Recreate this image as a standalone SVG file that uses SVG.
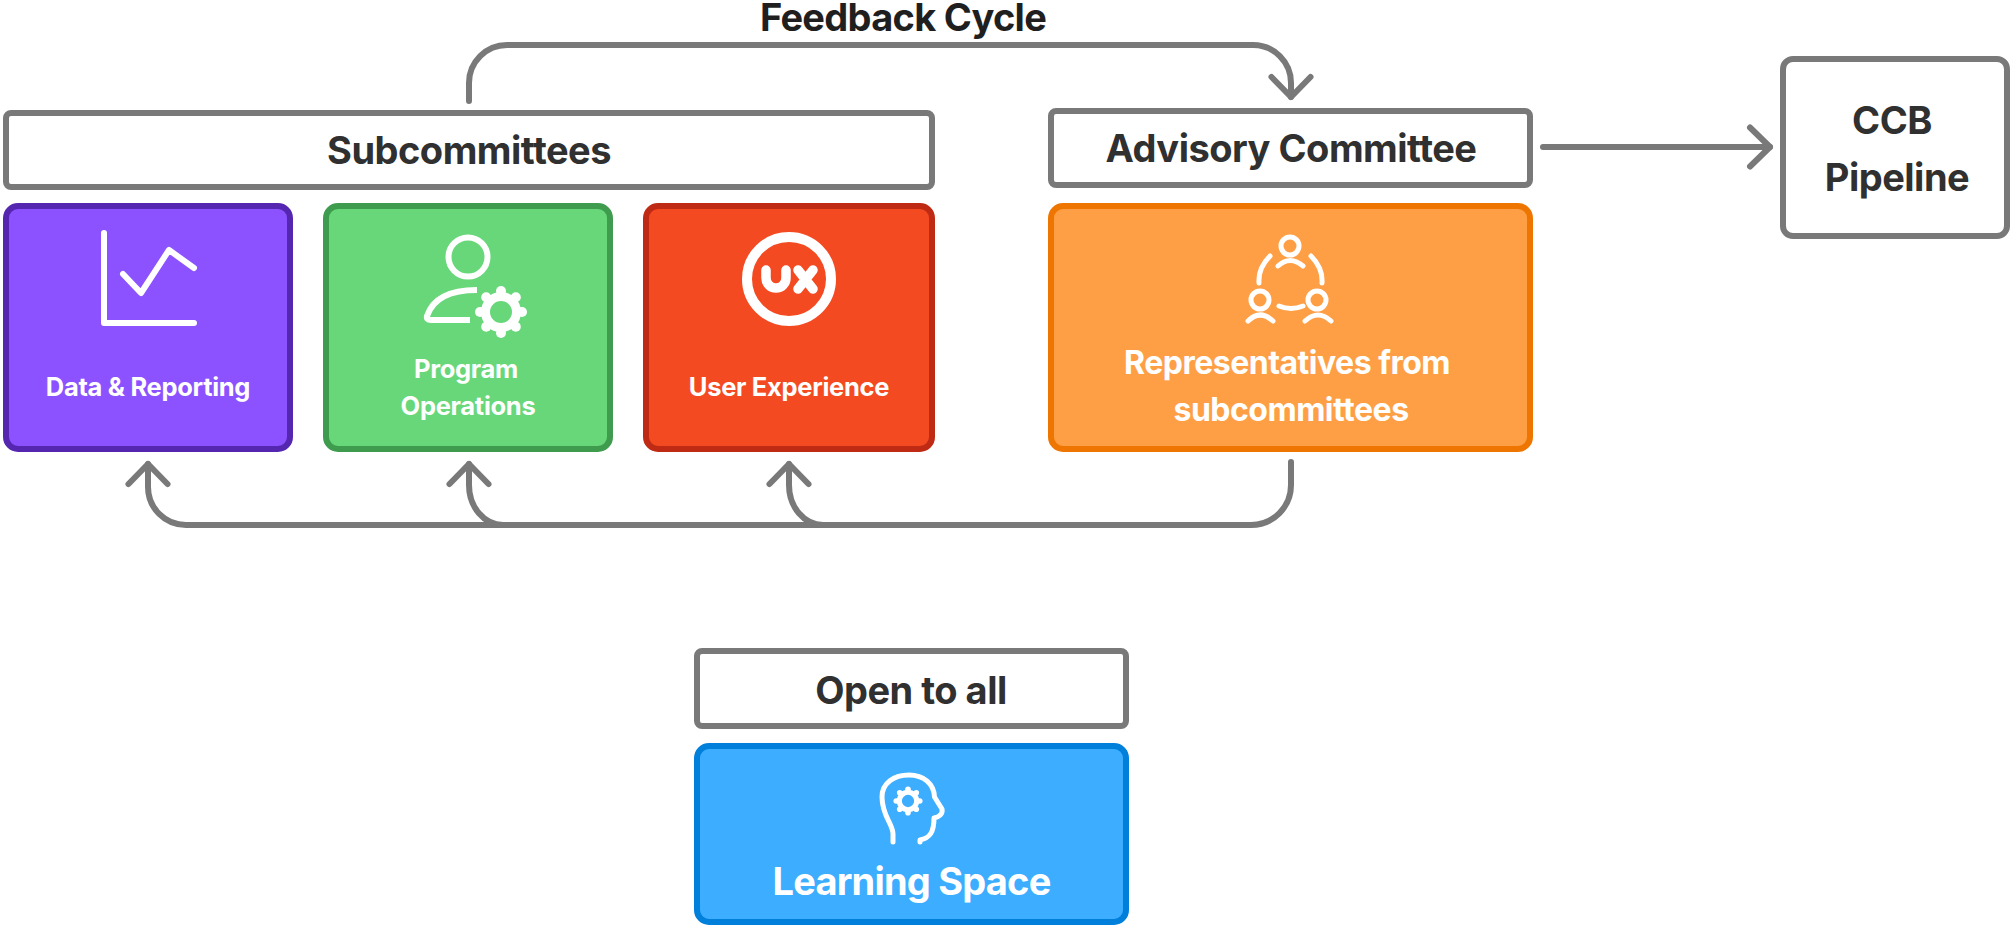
<svg xmlns="http://www.w3.org/2000/svg" width="2010" height="925" viewBox="0 0 2010 925">
<style>
text{font-family:Inter,"Liberation Sans",sans-serif;font-weight:700;text-anchor:middle}
.hd{fill:#303030;font-size:38px;letter-spacing:-.5px}
.wt{fill:#fff}
.sm{font-size:25.5px;letter-spacing:-.3px}
.md{font-size:32px;letter-spacing:-.5px}
.box{stroke-width:6}
.plain{fill:#fff;stroke:#797979}
.ic{fill:none;stroke:#fff;stroke-width:6;stroke-linecap:round;stroke-linejoin:round}
.cn{fill:none;stroke:#797979;stroke-width:6;stroke-linecap:round;stroke-linejoin:round}
</style>
<defs>
<marker id="arrow" markerUnits="userSpaceOnUse" markerWidth="60" markerHeight="60" refX="28" refY="25" orient="auto" viewBox="0 0 60 60">
<path d="M8 5.5 L28 25 L8 44.5" fill="none" stroke="#797979" stroke-width="6" stroke-linecap="round" stroke-linejoin="round"/>
</marker>
<g id="gear">
<circle r="15.5" fill="none" stroke="#fff" stroke-width="9"/>
<g fill="#fff"><circle cy="-21" r="5"/><circle cy="21" r="5"/><circle cx="-21" r="5"/><circle cx="21" r="5"/><circle cx="-14.8" cy="-14.8" r="5"/><circle cx="14.8" cy="-14.8" r="5"/><circle cx="-14.8" cy="14.8" r="5"/><circle cx="14.8" cy="14.8" r="5"/></g>
</g>
</defs>
<g id="connectors">
<path class="cn" marker-end="url(#arrow)" d="M469 101 V83 A38 38 0 0 1 507 45 H1253 A38 38 0 0 1 1291 83 V97"/>
<path class="cn" marker-end="url(#arrow)" d="M1543 147 H1770"/>
<path class="cn" marker-end="url(#arrow)" d="M1291 462 V485 A40 40 0 0 1 1251 525 H186 A38 38 0 0 1 148 487 V464"/>
<path class="cn" marker-end="url(#arrow)" d="M503 525 A34 40 0 0 1 469 485 V464"/>
<path class="cn" marker-end="url(#arrow)" d="M823 525 A34 40 0 0 1 789 485 V464"/>
</g>
<g id="subcommittees"><rect class="box plain" x="6" y="113" width="926" height="74" rx="5"/><text class="hd" x="469" y="164">Subcommittees</text></g>
<g id="advisory"><rect class="box plain" x="1051" y="111" width="479" height="74" rx="5"/><text class="hd" x="1291" y="162">Advisory Committee</text></g>
<g id="ccb"><rect class="box plain" x="1783" y="59" width="224" height="177" rx="10"/><text class="hd" x="1892" y="134">CCB</text><text class="hd" x="1897" y="191">Pipeline</text></g>
<g id="data-reporting"><rect class="box" fill="#8c52ff" stroke="#5527b0" x="6" y="206" width="284" height="243" rx="12"/>
<path class="ic" d="M104 233 V323 H194"/><path class="ic" d="M123 274 L141 293 L169 250 L194 268"/>
<text class="wt sm" x="148" y="396">Data &amp; Reporting</text></g>
<g id="program-operations"><rect class="box" fill="#68d77a" stroke="#3f9c4e" x="326" y="206" width="284" height="243" rx="12"/>
<circle class="ic" cx="468" cy="257" r="19.5"/><path class="ic" style="stroke-linecap:butt" d="M477 290 C450 290 433 298 427 316 Q426 320 431 320 L470 320"/>
<use href="#gear" x="501" y="312"/>
<text class="wt sm" x="466" y="378">Program</text><text class="wt sm" x="468" y="415">Operations</text></g>
<g id="user-experience"><rect class="box" fill="#f44a22" stroke="#be2a14" x="646" y="206" width="286" height="243" rx="12"/>
<circle class="ic" style="stroke-width:10" cx="789" cy="279" r="42"/>
<path class="ic" style="stroke-width:9.5" d="M766 270 V278 A10 10 0 0 0 786 278 V270 M798 270 L813 289 M813 270 L798 289"/>
<text class="wt sm" x="789" y="396">User Experience</text></g>
<g id="representatives"><rect class="box" fill="#ff9f45" stroke="#ee7600" x="1051" y="206" width="479" height="243" rx="12"/>
<g class="ic" style="stroke-width:5"><circle cx="1290" cy="246" r="9"/><circle cx="1260" cy="300" r="9"/><circle cx="1317" cy="300" r="9"/>
<path d="M1278 266 Q1290 255 1303 266 M1248 321 Q1260 309 1273 321 M1305 321 Q1318 309 1331 321 M1270 256 Q1258 268 1259 283 M1311 256 Q1323 268 1322 283 M1279 306 Q1291 311 1303 306"/></g>
<text class="wt md" x="1287" y="374">Representatives from</text><text class="wt md" x="1291" y="421">subcommittees</text></g>
<g id="feedback"><text fill="#1f1f1f" font-size="38" letter-spacing="-.7" x="903" y="31">Feedback Cycle</text></g>
<g id="open"><rect class="box plain" x="697" y="651" width="429" height="75" rx="5"/><text class="hd" x="911" y="704">Open to all</text></g>
<g id="learning"><rect class="box" fill="#3dadff" stroke="#007fdb" x="697" y="746" width="429" height="176" rx="12"/>
<path class="ic" style="stroke-width:5" d="M893 842 V834 C893 824 882 816 882 797 C882 783 894 775 909 775 C924 775 934 784 934.5 797 L942 809 C943 814 939 817 934 818 C934 832 930 838 920 840 V842"/>
<use href="#gear" transform="translate(908 801) scale(.56)"/>
<text class="wt" font-size="38" letter-spacing="-.8" x="911.5" y="895">Learning Space</text></g>
</svg>
